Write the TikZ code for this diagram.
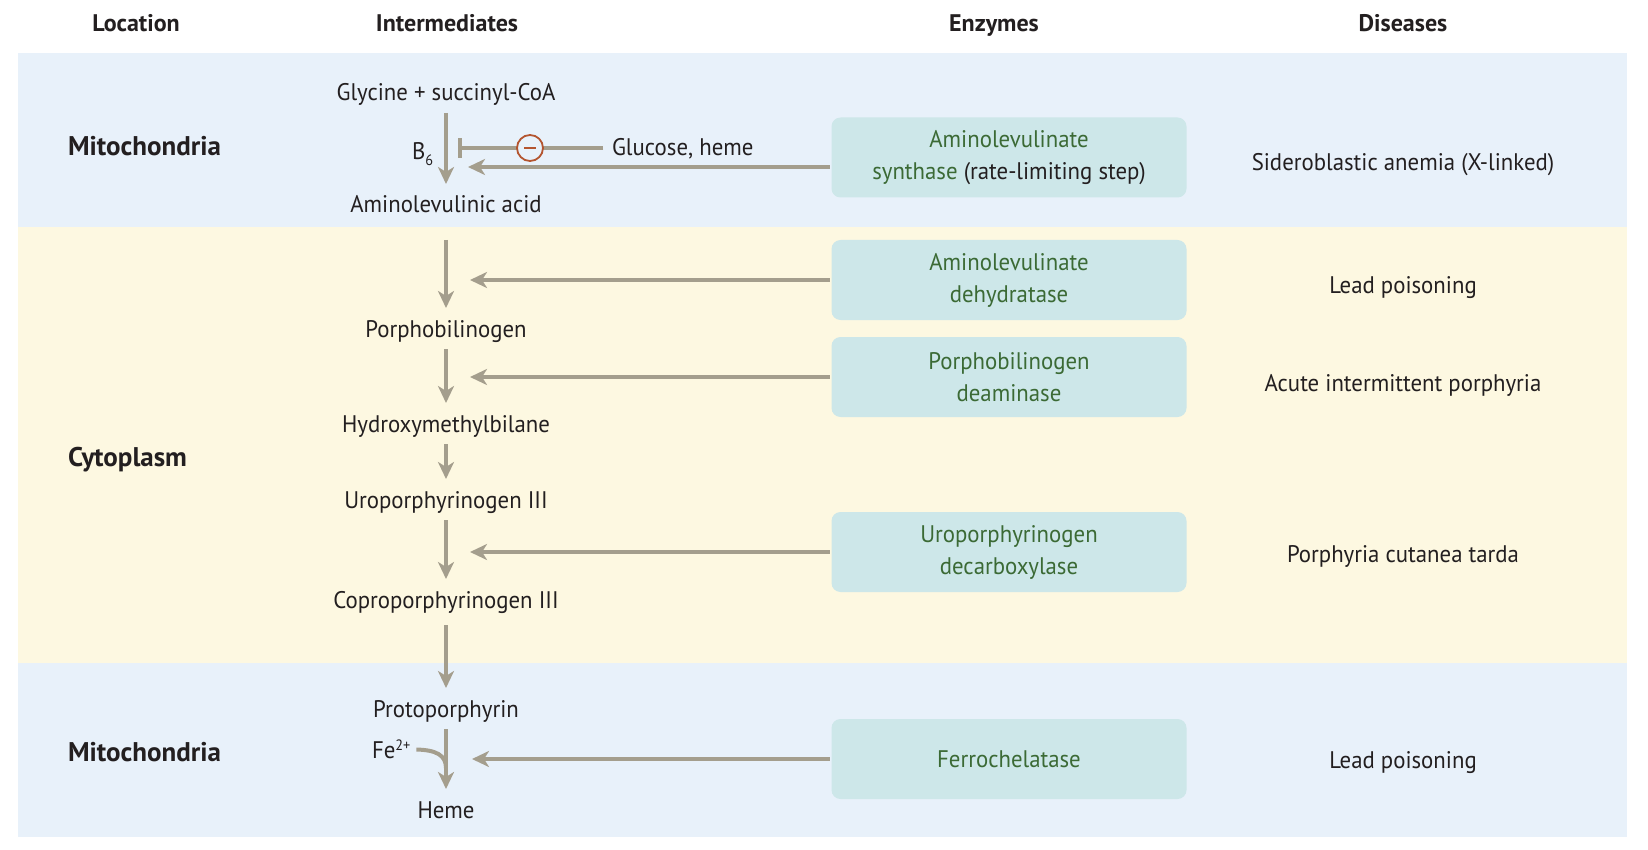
\documentclass[tikz,border=0pt]{standalone}
\usepackage{fontspec}
\setmainfont{PT Sans}[FakeStretch=0.95]
\newfontfamily\headfont{PT Sans}
\usetikzlibrary{arrows.meta}

\definecolor{bandblue}{HTML}{E8F1FA}
\definecolor{bandyellow}{HTML}{FDF8E1}
\definecolor{enzfill}{HTML}{CDE7E9}
\definecolor{flowgray}{HTML}{A49E8D}
\definecolor{enzgreen}{HTML}{3B6A35}
\definecolor{ink}{HTML}{231F20}
\definecolor{inhib}{HTML}{B4552F}

\begin{document}
\begin{tikzpicture}[x=1pt,y=-1pt,>={Stealth[length=17pt,width=16pt,inset=5pt]},
                    line width=4pt]
  \tikzstyle{every node}=[font=\fontsize{24}{29}\selectfont,text=ink,inner sep=0pt]
  \tikzstyle{inter}=[anchor=base,text height=22pt,text depth=5pt,inner ysep=5pt]
  \tikzstyle{head}=[anchor=base,font=\headfont\fontsize{24}{29}\selectfont\bfseries]
  \tikzstyle{place}=[anchor=base west,font=\headfont\fontsize{27}{32}\selectfont\bfseries]
  \tikzstyle{disease}=[anchor=base]
  \tikzstyle{enzyme}=[fill=enzfill,rounded corners=9pt,minimum width=355pt,
                      minimum height=80pt,align=center,text=enzgreen,
                      font=\fontsize{24}{32}\selectfont]
  \tikzstyle{flow}=[draw=flowgray,->]
\fill [white] (0,0) rectangle (1648,850);
\useasboundingbox (0,0) rectangle (1648,850);
\fill [bandblue] (18,53) rectangle (1627,227);
\fill [bandyellow] (18,227) rectangle (1627,663);
\fill [bandblue] (18,663) rectangle (1627,837);

\node [head] (hloc) at (136,32) {Location};
\node [head] (hint) at (447,32) {Intermediates};
\node [head] (henz) at (994,32) {Enzymes};
\node [head] (hdis) at (1403,32) {Diseases};

\node [place] (mito1) at (66,156) {Mitochondria};
\node [place] (cyto) at (66,466) {Cytoplasm};
\node [place] (mito2) at (66,761) {Mitochondria};

\node [inter] (gly) at (446,101) {Glycine + succinyl-CoA};
\node [inter] (ala) at (446,213) {Aminolevulinic acid};
\node [inter] (pbg) at (446,337) {Porphobilinogen};
\node [inter] (hmb) at (446,432) {Hydroxymethylbilane};
\node [inter] (uro) at (446,508) {Uroporphyrinogen III};
\node [inter] (copro) at (446,608) {Coproporphyrinogen III};
\node [inter] (proto) at (446,717) {Protoporphyrin};
\node [inter] (heme) at (446,818) {Heme};

\node [anchor=base west] (bsix) at (410,160)
  {B\raisebox{-6pt}{\fontsize{15}{15}\selectfont 6}};
\node [anchor=base west,inner xsep=4pt,text height=17pt,text depth=0pt] (fe) at (366,758)
  {Fe\raisebox{8pt}{\fontsize{15}{15}\selectfont 2+}};

\node [enzyme] (als) at (1009,157.5)
  {Aminolevulinate\\synthase \textcolor{ink}{(rate-limiting step)}};
\node [enzyme] (alad) at (1009,280) {Aminolevulinate\\dehydratase};
\node [enzyme] (pbgd) at (1009,377) {Porphobilinogen\\deaminase};
\node [enzyme] (urod) at (1009,552) {Uroporphyrinogen\\decarboxylase};
\node [enzyme] (fech) at (1009,759) {Ferrochelatase};

\node [disease] (sidero) at (1403,171) {Sideroblastic anemia (X-linked)};
\node [disease] (lead1) at (1403,294) {Lead poisoning};
\node [disease] (aip) at (1403,391) {Acute intermittent porphyria};
\node [disease] (pct) at (1403,562) {Porphyria cutanea tarda};
\node [disease] (lead2) at (1403,768) {Lead poisoning};

\coordinate (in1) at (468,167);
\coordinate (in2) at (470,280);
\coordinate (in3) at (470,377);
\coordinate (in4) at (470,552);
\coordinate (in5) at (472,759);
\coordinate (bar) at (458,148);
\coordinate (join) at (446,768);

\path (gly) edge [flow] (ala)
      (ala) edge [flow,shorten <=15pt] (pbg)
      (pbg) edge [flow] (hmb)
      (hmb) edge [flow] (uro)
      (uro) edge [flow] (copro)
      (copro) edge [flow,shorten <=5pt] (proto)
      (proto) edge [flow] (heme);

\draw [flow] (als.west |- in1) -- (in1);
\path (alad) edge [flow] (in2)
      (pbgd) edge [flow] (in3)
      (urod) edge [flow] (in4)
      (fech) edge [flow] (in5);

\node [anchor=base west,inner xsep=7pt,text height=17pt,text depth=1pt] (glu) at (603,156)
  {Glucose, heme};
\draw [draw=flowgray,-{Bar[width=20pt]}] (glu.west) -- (bar);
\node [circle,draw=inhib,fill=bandblue,line width=1.8pt,minimum size=26pt] (minus) at (530,148) {};
\draw [inhib,line width=2pt] ([xshift=-6pt]minus.center) -- ([xshift=6pt]minus.center);

\draw [draw=flowgray] (fe.east) .. controls (436,750) and (446,755) .. (join);
\end{tikzpicture}
\end{document}
